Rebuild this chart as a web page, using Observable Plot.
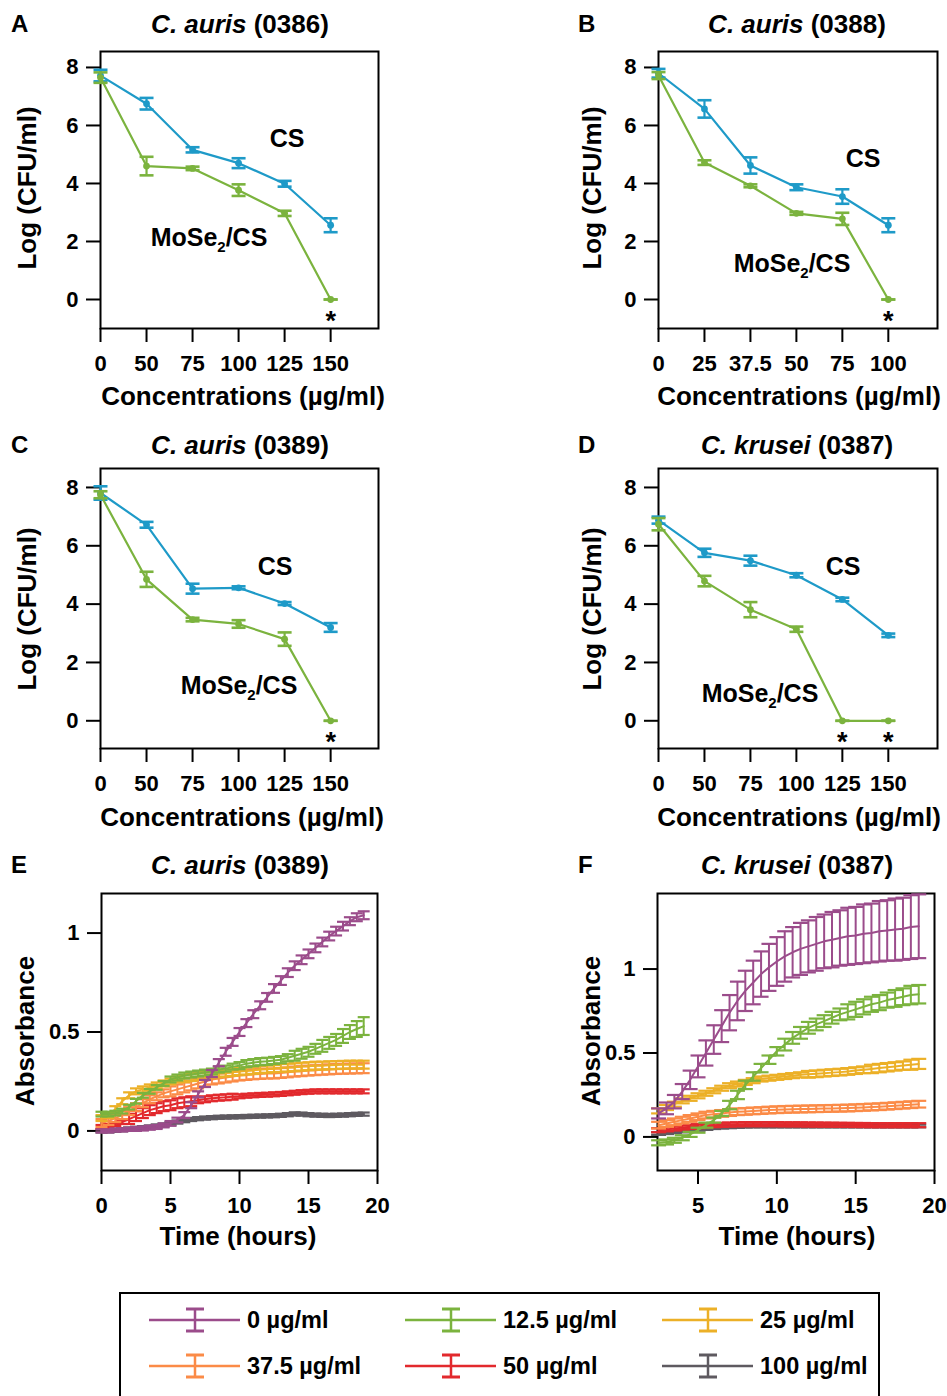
<!DOCTYPE html>
<html><head><meta charset="utf-8">
<script src="https://cdn.jsdelivr.net/npm/d3@7"></script>
<script src="https://cdn.jsdelivr.net/npm/@observablehq/plot@0.6"></script>
<style>
body{margin:0;background:#fff;}
#fig{position:relative;width:947px;height:1396px;overflow:hidden;font-family:"Liberation Sans",Arial,Helvetica,sans-serif;font-weight:bold;color:#000;background:#fff;}
.t{position:absolute;white-space:nowrap;transform:translate(-50%,-50%);line-height:1;}
.letter{position:absolute;font-size:24px;transform:translate(0,-50%);line-height:1;}
.title{font-size:26px;}
.axl{font-size:26px;}
.yl{transform:translate(-50%,-50%) rotate(-90deg);}
.ann{font-size:25px;}
.ann sub{font-size:15px;vertical-align:-6px;line-height:0;}
#legend{position:absolute;left:119px;top:1292px;width:757px;height:140px;border:2px solid #000;}
.li{position:absolute;display:flex;align-items:center;font-size:23.5px;transform:translateY(-50%);white-space:nowrap;}
.li svg{margin-right:6px;}
</style>
</head><body><div id="fig"></div>
<script>
// ---------- Panels A-D: Log(CFU/ml) vs concentration ----------
const catsACD = ["0", "50", "75", "100", "125", "150"];
const catsB = ["0", "25", "37.5", "50", "75", "100"];

const csA = [7.72, 6.75, 5.16, 4.70, 3.99, 2.56];
const csAErr = [0.2, 0.2, 0.09, 0.17, 0.1, 0.24];
const moA = [7.65, 4.6, 4.52, 3.77, 2.97, 0];
const moAErr = [0.18, 0.32, 0.06, 0.2, 0.09, 0];
const starsA = [5];

const csB = [7.8, 6.57, 4.62, 3.87, 3.55, 2.56];
const csBErr = [0.15, 0.3, 0.28, 0.1, 0.25, 0.24];
const moB = [7.72, 4.72, 3.92, 2.97, 2.78, 0];
const moBErr = [0.12, 0.08, 0.05, 0.05, 0.21, 0];
const starsB = [5];

const csC = [7.81, 6.72, 4.53, 4.56, 4.02, 3.2];
const csCErr = [0.23, 0.1, 0.17, 0.05, 0.05, 0.15];
const moC = [7.75, 4.85, 3.47, 3.32, 2.8, 0];
const moCErr = [0.12, 0.26, 0.06, 0.13, 0.23, 0];
const starsC = [5];

const csD = [6.88, 5.76, 5.49, 4.99, 4.16, 2.93];
const csDErr = [0.12, 0.14, 0.17, 0.07, 0.06, 0.06];
const moD = [6.74, 4.79, 3.81, 3.14, 0, 0];
const moDErr = [0.21, 0.18, 0.26, 0.09, 0, 0];
const starsD = [4, 5];

const cfuTicks = [0, 2, 4, 6, 8];

// ---------- Panels E-F: growth curves ----------
const timeE = [0,0.5,1,1.5,2,2.5,3,3.5,4,4.5,5,5.5,6,6.5,7,7.5,8,8.5,9,9.5,10,10.5,11,11.5,12,12.5,13,13.5,14,14.5,15,15.5,16,16.5,17,17.5,18,18.5,19];
const timeF = [2.5,3,3.5,4,4.5,5,5.5,6,6.5,7,7.5,8,8.5,9,9.5,10,10.5,11,11.5,12,12.5,13,13.5,14,14.5,15,15.5,16,16.5,17,17.5,18,18.5,19];

const concLabels = ["0 µg/ml", "12.5 µg/ml", "25 µg/ml", "37.5 µg/ml", "50 µg/ml", "100 µg/ml"];
const concColors = ["#9b4c8b", "#7bb33e", "#ecb027", "#fb8b47", "#e2292d", "#5e5a60"];

const e0 = [0,0,0.005,0.005,0.008,0.01,0.012,0.016,0.02,0.028,0.038,0.055,0.08,0.13,0.185,0.24,0.29,0.345,0.4,0.45,0.5,0.545,0.59,0.635,0.675,0.72,0.76,0.8,0.835,0.865,0.895,0.925,0.955,0.985,1.01,1.035,1.06,1.08,1.09];
const e0Err = [0.008,0.008,0.008,0.008,0.008,0.01,0.01,0.01,0.01,0.01,0.012,0.012,0.015,0.015,0.015,0.018,0.018,0.018,0.02,0.02,0.02,0.02,0.02,0.02,0.022,0.022,0.022,0.022,0.022,0.022,0.022,0.022,0.022,0.022,0.022,0.022,0.02,0.02,0.02];
const e12 = [0.085,0.085,0.09,0.1,0.12,0.15,0.18,0.2,0.22,0.24,0.26,0.27,0.28,0.285,0.29,0.295,0.3,0.31,0.315,0.325,0.33,0.34,0.345,0.35,0.352,0.356,0.36,0.37,0.38,0.39,0.4,0.415,0.43,0.445,0.46,0.48,0.5,0.515,0.53];
const e12Err = [0.012,0.012,0.012,0.012,0.012,0.012,0.012,0.012,0.012,0.012,0.015,0.015,0.015,0.015,0.015,0.015,0.015,0.015,0.015,0.015,0.018,0.018,0.018,0.018,0.018,0.018,0.018,0.018,0.025,0.025,0.025,0.025,0.03,0.03,0.03,0.035,0.035,0.04,0.045];
const e25 = [0.065,0.08,0.11,0.15,0.18,0.2,0.21,0.22,0.23,0.24,0.25,0.26,0.265,0.27,0.275,0.28,0.285,0.29,0.293,0.296,0.3,0.303,0.306,0.31,0.312,0.315,0.318,0.32,0.322,0.325,0.327,0.33,0.33,0.332,0.333,0.334,0.335,0.335,0.335];
const e25Err = [0.015,0.015,0.015,0.015,0.015,0.015,0.015,0.015,0.015,0.015,0.015,0.015,0.018,0.018,0.018,0.018,0.018,0.018,0.018,0.018,0.018,0.018,0.018,0.018,0.018,0.018,0.02,0.02,0.02,0.02,0.02,0.02,0.02,0.02,0.02,0.02,0.02,0.02,0.02];
const e37 = [0.04,0.05,0.065,0.08,0.1,0.12,0.14,0.16,0.175,0.19,0.2,0.21,0.22,0.23,0.24,0.25,0.26,0.265,0.27,0.275,0.28,0.283,0.286,0.288,0.29,0.29,0.293,0.296,0.3,0.302,0.305,0.307,0.309,0.311,0.313,0.314,0.315,0.316,0.317];
const e37Err = [0.02,0.02,0.02,0.02,0.02,0.02,0.02,0.02,0.02,0.02,0.025,0.025,0.025,0.025,0.025,0.025,0.025,0.025,0.025,0.025,0.025,0.025,0.025,0.025,0.025,0.025,0.025,0.025,0.025,0.025,0.025,0.025,0.025,0.025,0.025,0.025,0.025,0.025,0.025];
const e50 = [0.02,0.025,0.035,0.045,0.06,0.075,0.09,0.105,0.115,0.125,0.13,0.14,0.145,0.15,0.155,0.16,0.165,0.168,0.17,0.173,0.175,0.178,0.18,0.182,0.183,0.185,0.187,0.19,0.193,0.196,0.198,0.2,0.2,0.2,0.2,0.2,0.2,0.2,0.2];
const e50Err = [0.01,0.01,0.01,0.01,0.025,0.025,0.025,0.025,0.025,0.025,0.025,0.025,0.025,0.025,0.015,0.015,0.015,0.015,0.015,0.015,0.01,0.01,0.01,0.01,0.01,0.01,0.01,0.01,0.01,0.01,0.01,0.01,0.01,0.01,0.01,0.01,0.01,0.01,0.01];
const e100 = [0,0,0.003,0.006,0.01,0.013,0.016,0.02,0.025,0.03,0.037,0.045,0.052,0.058,0.062,0.065,0.067,0.069,0.07,0.071,0.072,0.073,0.074,0.075,0.076,0.077,0.079,0.082,0.086,0.085,0.082,0.08,0.079,0.078,0.079,0.08,0.082,0.084,0.085];
const e100Err = [0.008,0.008,0.008,0.008,0.008,0.008,0.008,0.008,0.008,0.008,0.008,0.008,0.008,0.008,0.008,0.008,0.008,0.008,0.008,0.008,0.008,0.008,0.008,0.008,0.008,0.008,0.008,0.008,0.008,0.008,0.008,0.008,0.008,0.008,0.008,0.008,0.008,0.008,0.008];

const f0 = [0.14,0.17,0.21,0.27,0.34,0.42,0.5,0.58,0.66,0.74,0.81,0.87,0.92,0.97,1.01,1.045,1.075,1.1,1.12,1.135,1.15,1.165,1.175,1.185,1.195,1.2,1.21,1.215,1.225,1.23,1.235,1.24,1.25,1.255];
const f0Err = [0.03,0.035,0.04,0.045,0.055,0.065,0.075,0.085,0.095,0.105,0.115,0.12,0.13,0.135,0.14,0.145,0.15,0.15,0.155,0.155,0.16,0.16,0.165,0.165,0.17,0.17,0.175,0.175,0.18,0.18,0.185,0.185,0.19,0.19];
const f12 = [-0.035,-0.03,-0.02,-0.005,0.015,0.04,0.07,0.1,0.14,0.19,0.25,0.31,0.36,0.41,0.46,0.51,0.55,0.59,0.62,0.65,0.67,0.69,0.71,0.73,0.745,0.76,0.775,0.79,0.8,0.815,0.825,0.835,0.845,0.85];
const f12Err = [0.015,0.015,0.015,0.015,0.015,0.015,0.015,0.015,0.015,0.025,0.025,0.025,0.025,0.025,0.025,0.025,0.035,0.035,0.035,0.035,0.035,0.035,0.035,0.035,0.045,0.045,0.045,0.045,0.045,0.045,0.05,0.05,0.055,0.055];
const f25 = [0.155,0.175,0.195,0.215,0.23,0.245,0.26,0.275,0.29,0.305,0.315,0.325,0.335,0.345,0.35,0.355,0.36,0.365,0.37,0.373,0.376,0.38,0.383,0.386,0.39,0.395,0.4,0.405,0.41,0.415,0.42,0.425,0.43,0.435];
const f25Err = [0.015,0.015,0.015,0.015,0.015,0.015,0.015,0.015,0.015,0.015,0.015,0.015,0.015,0.015,0.015,0.015,0.015,0.015,0.015,0.02,0.02,0.02,0.02,0.02,0.02,0.02,0.02,0.025,0.025,0.025,0.025,0.025,0.03,0.03];
const f37 = [0.07,0.08,0.09,0.1,0.11,0.12,0.13,0.135,0.14,0.145,0.15,0.152,0.155,0.157,0.16,0.162,0.164,0.165,0.166,0.167,0.168,0.169,0.17,0.171,0.172,0.174,0.176,0.178,0.18,0.183,0.186,0.189,0.192,0.195];
const f37Err = [0.02,0.02,0.02,0.02,0.02,0.02,0.02,0.02,0.02,0.02,0.02,0.02,0.02,0.02,0.02,0.02,0.02,0.02,0.02,0.02,0.02,0.02,0.02,0.02,0.02,0.02,0.02,0.02,0.02,0.02,0.02,0.02,0.02,0.02];
const f50 = [0.04,0.045,0.05,0.055,0.06,0.064,0.067,0.07,0.072,0.074,0.075,0.076,0.076,0.076,0.076,0.076,0.075,0.075,0.075,0.074,0.074,0.073,0.073,0.072,0.072,0.071,0.071,0.07,0.07,0.07,0.07,0.07,0.07,0.07];
const f50Err = [0.012,0.012,0.012,0.012,0.012,0.012,0.012,0.012,0.012,0.012,0.012,0.012,0.012,0.012,0.012,0.012,0.012,0.012,0.012,0.012,0.012,0.012,0.012,0.012,0.012,0.012,0.012,0.012,0.012,0.012,0.012,0.012,0.012,0.012];
const f100 = [0.02,0.025,0.03,0.035,0.04,0.045,0.05,0.055,0.058,0.06,0.062,0.064,0.065,0.065,0.065,0.065,0.065,0.065,0.065,0.065,0.065,0.065,0.065,0.065,0.065,0.065,0.065,0.065,0.065,0.065,0.065,0.065,0.065,0.065];
const f100Err = [0.008,0.008,0.008,0.008,0.008,0.008,0.008,0.008,0.008,0.008,0.008,0.008,0.008,0.008,0.008,0.008,0.008,0.008,0.008,0.008,0.008,0.008,0.008,0.008,0.008,0.008,0.008,0.008,0.008,0.008,0.008,0.008,0.008,0.008];

const absTicks = [0, 0.5, 1];

// ---------- drawing ----------
const fig = document.getElementById("fig");
const FONT = "'Liberation Sans', Arial, Helvetica, sans-serif";
const blue = "#1e9ac8", green = "#7bb33e";
const cap = {draw(ctx, size) { const r = Math.sqrt(size / Math.PI); ctx.moveTo(-r, 0); ctx.lineTo(r, 0); }};

function place(svg, left, top) {
  svg.style.position = "absolute";
  svg.style.left = left + "px";
  svg.style.top = top + "px";
  fig.appendChild(svg);
}
function baseStyle() {
  return {fontFamily: FONT, fontWeight: "bold", fontSize: "22px", color: "#000", background: "transparent", overflow: "visible"};
}

function cfuPanel(o) {
  const rows = (vals, errs) => vals.map((v, i) => ({i, v, lo: v - errs[i], hi: v + errs[i]}));
  const groups = [[rows(o.cs, o.csErr), blue], [rows(o.mo, o.moErr), green]];
  const marks = [
    Plot.frame({stroke: "#000", strokeWidth: 2}),
    Plot.axisY({ticks: cfuTicks, tickSize: 14, tickPadding: 8, strokeWidth: 2, label: null, fontSize: 22, tickFormat: d => String(d)}),
    Plot.axisX({ticks: [0, 1, 2, 3, 4, 5], tickFormat: i => o.cats[i], tickSize: 14, tickPadding: 13, strokeWidth: 2, fontSize: 22, label: null})
  ];
  for (const [d, c] of groups) {
    marks.push(Plot.line(d, {x: "i", y: "v", stroke: c, strokeWidth: 2.2}));
    marks.push(Plot.ruleX(d, {x: "i", y1: "lo", y2: "hi", stroke: c, strokeWidth: 2.2}));
    marks.push(Plot.dot(d, {x: "i", y: "lo", symbol: cap, r: 7, stroke: c, strokeWidth: 2.6, fill: "none"}));
    marks.push(Plot.dot(d, {x: "i", y: "hi", symbol: cap, r: 7, stroke: c, strokeWidth: 2.6, fill: "none"}));
    marks.push(Plot.dot(d, {x: "i", y: "v", r: 3.4, fill: c, stroke: null}));
  }
  marks.push(Plot.text(o.stars, {x: d => d, y: () => 0, text: () => "*", dy: 22, fontSize: 27, fill: "#000"}));
  const svg = Plot.plot({
    width: o.width, height: o.height,
    marginLeft: o.ml, marginRight: o.mr, marginTop: o.mt, marginBottom: o.mb,
    x: {domain: o.xDomain, axis: null},
    y: {domain: o.yDomain, axis: null},
    style: baseStyle(),
    marks
  });
  place(svg, o.left, o.top);
}

function growthPanel(o) {
  const marks = [
    Plot.frame({stroke: "#000", strokeWidth: 2}),
    Plot.axisY({ticks: absTicks, tickSize: 14, tickPadding: 8, strokeWidth: 2, label: null, fontSize: 22, tickFormat: d => String(d)}),
    Plot.axisX({ticks: o.xTicks, tickSize: 14, tickPadding: 13, strokeWidth: 2, label: null, fontSize: 22, tickFormat: d => String(d)})
  ];
  for (const s of o.series) {
    const d = o.time.map((t, k) => ({t, v: s.vals[k], lo: s.vals[k] - s.errs[k], hi: s.vals[k] + s.errs[k]}));
    marks.push(Plot.line(d, {x: "t", y: "v", stroke: s.color, strokeWidth: 2}));
    marks.push(Plot.ruleX(d, {x: "t", y1: "lo", y2: "hi", stroke: s.color, strokeWidth: 2}));
    marks.push(Plot.dot(d, {x: "t", y: "lo", symbol: cap, r: o.capR, stroke: s.color, strokeWidth: 2.2, fill: "none"}));
    marks.push(Plot.dot(d, {x: "t", y: "hi", symbol: cap, r: o.capR, stroke: s.color, strokeWidth: 2.2, fill: "none"}));
  }
  const svg = Plot.plot({
    width: o.width, height: o.height,
    marginLeft: o.ml, marginRight: o.mr, marginTop: o.mt, marginBottom: o.mb,
    x: {domain: o.xDomain, axis: null},
    y: {domain: o.yDomain, axis: null},
    style: baseStyle(),
    marks
  });
  place(svg, o.left, o.top);
}

cfuPanel({left: 0, top: 0, width: 460, height: 420, ml: 100, mr: 82, mt: 51, mb: 92, xDomain: [0, 6.04], yDomain: [-1, 8.55], cats: catsACD, cs: csA, csErr: csAErr, mo: moA, moErr: moAErr, stars: starsA});
cfuPanel({left: 557, top: 0, width: 390, height: 420, ml: 101, mr: 10, mt: 51, mb: 92, xDomain: [0, 6.07], yDomain: [-1, 8.55], cats: catsB, cs: csB, csErr: csBErr, mo: moB, moErr: moBErr, stars: starsB});
cfuPanel({left: 0, top: 421, width: 460, height: 420, ml: 100, mr: 82, mt: 47, mb: 93, xDomain: [0, 6.04], yDomain: [-0.95, 8.65], cats: catsACD, cs: csC, csErr: csCErr, mo: moC, moErr: moCErr, stars: starsC});
cfuPanel({left: 557, top: 421, width: 390, height: 420, ml: 101, mr: 10, mt: 47, mb: 93, xDomain: [0, 6.07], yDomain: [-0.95, 8.65], cats: catsACD, cs: csD, csErr: csDErr, mo: moD, moErr: moDErr, stars: starsD});

// draw order: 100, 50, 37.5, 25, 12.5, 0
const seriesE = [
  {vals: e100, errs: e100Err, color: concColors[5]},
  {vals: e50, errs: e50Err, color: concColors[4]},
  {vals: e37, errs: e37Err, color: concColors[3]},
  {vals: e25, errs: e25Err, color: concColors[2]},
  {vals: e12, errs: e12Err, color: concColors[1]},
  {vals: e0, errs: e0Err, color: concColors[0]}
];
const seriesF = [
  {vals: f100, errs: f100Err, color: concColors[5]},
  {vals: f50, errs: f50Err, color: concColors[4]},
  {vals: f37, errs: f37Err, color: concColors[3]},
  {vals: f25, errs: f25Err, color: concColors[2]},
  {vals: f12, errs: f12Err, color: concColors[1]},
  {vals: f0, errs: f0Err, color: concColors[0]}
];
growthPanel({left: 0, top: 842, width: 460, height: 420, ml: 101, mr: 83, mt: 51, mb: 92, xDomain: [0, 20], yDomain: [-0.2, 1.2], xTicks: [0, 5, 10, 15, 20], time: timeE, series: seriesE, capR: 6});
growthPanel({left: 557, top: 842, width: 390, height: 420, ml: 100, mr: 13, mt: 51, mb: 92, xDomain: [2.43, 20], yDomain: [-0.2, 1.45], xTicks: [5, 10, 15, 20], time: timeF, series: seriesF, capR: 7.5});

// ---------- text ----------
function addText(cls, html, x, y) {
  const el = document.createElement("div");
  el.className = cls;
  el.innerHTML = html;
  el.style.left = x + "px";
  el.style.top = y + "px";
  fig.appendChild(el);
}
const panelLetters = [["A", 11, 24], ["B", 578, 24], ["C", 11, 445], ["D", 578, 445], ["E", 11, 865], ["F", 578, 865]];
for (const [l, x, y] of panelLetters) addText("letter", l, x, y);

const titles = [
  ["<i>C. auris</i> (0386)", 240, 24], ["<i>C. auris</i> (0388)", 797, 24],
  ["<i>C. auris</i> (0389)", 240, 445], ["<i>C. krusei</i> (0387)", 797, 445],
  ["<i>C. auris</i> (0389)", 240, 865], ["<i>C. krusei</i> (0387)", 797, 865]
];
for (const [t, x, y] of titles) addText("t title", t, x, y);

const yLabels = [["Log (CFU/ml)", 27, 188], ["Log (CFU/ml)", 592, 188], ["Log (CFU/ml)", 27, 609], ["Log (CFU/ml)", 592, 609], ["Absorbance", 25, 1031], ["Absorbance", 591, 1031]];
for (const [t, x, y] of yLabels) addText("t axl yl", t, x, y);

const xLabels = [["Concentrations (µg/ml)", 243, 396], ["Concentrations (µg/ml)", 799, 396], ["Concentrations (µg/ml)", 242, 817], ["Concentrations (µg/ml)", 799, 817], ["Time (hours)", 238, 1236], ["Time (hours)", 797, 1236]];
for (const [t, x, y] of xLabels) addText("t axl", t, x, y);

const annotations = [
  ["CS", 287, 138], ["MoSe<sub>2</sub>/CS", 209, 237],
  ["CS", 863, 158], ["MoSe<sub>2</sub>/CS", 792, 263],
  ["CS", 275, 566], ["MoSe<sub>2</sub>/CS", 239, 685],
  ["CS", 843, 566], ["MoSe<sub>2</sub>/CS", 760, 693]
];
for (const [t, x, y] of annotations) addText("t ann", t, x, y);

// ---------- legend ----------
const lg = document.createElement("div");
lg.id = "legend";
fig.appendChild(lg);
const legendPos = [[149, 1320], [405, 1320], [662, 1320], [149, 1366], [405, 1366], [662, 1366]];
concLabels.forEach((lab, k) => {
  const el = document.createElement("div");
  el.className = "li";
  el.style.left = legendPos[k][0] + "px";
  el.style.top = legendPos[k][1] + "px";
  const c = concColors[k];
  el.innerHTML = `<svg width="92" height="28"><line x1="0" y1="14" x2="91" y2="14" stroke="${c}" stroke-width="2.5"/><line x1="46" y1="3" x2="46" y2="25" stroke="${c}" stroke-width="2.5"/><line x1="37" y1="3" x2="55" y2="3" stroke="${c}" stroke-width="3"/><line x1="37" y1="25" x2="55" y2="25" stroke="${c}" stroke-width="3"/></svg><span>${lab}</span>`;
  fig.appendChild(el);
});
</script>
</body></html>
